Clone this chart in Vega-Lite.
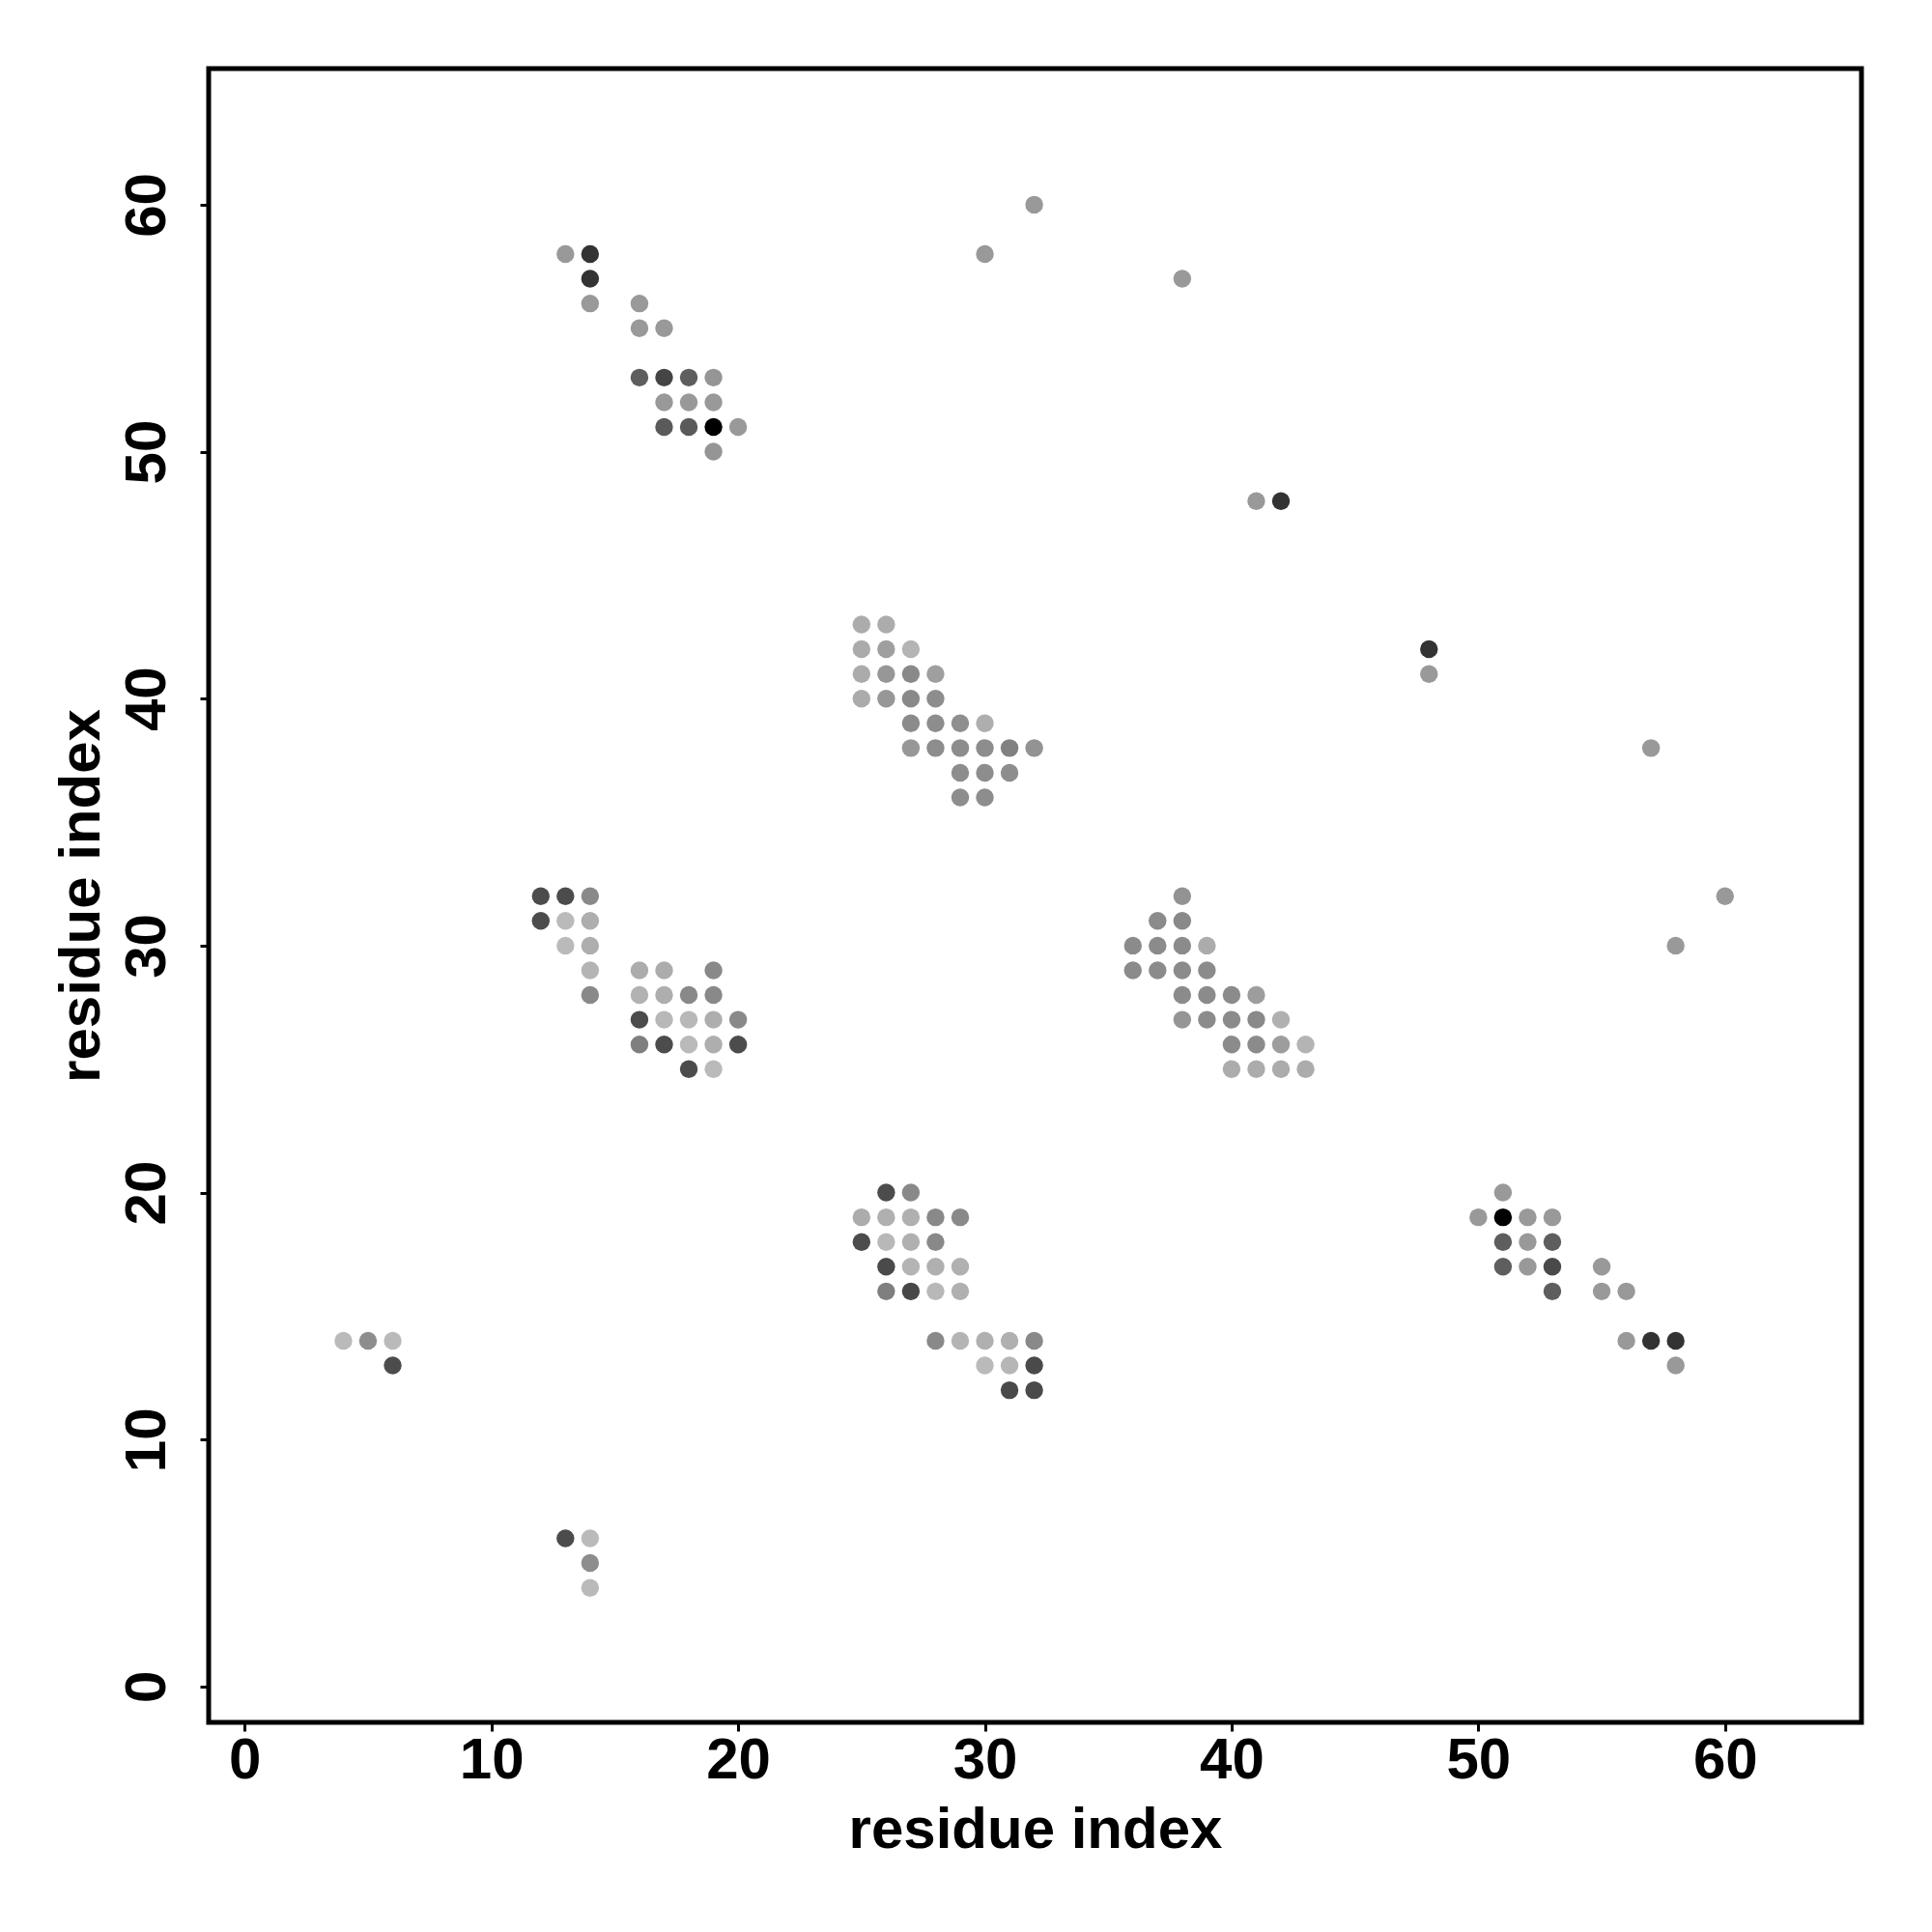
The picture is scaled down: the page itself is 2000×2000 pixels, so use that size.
{
  "$schema": "https://vega.github.io/schema/vega-lite/v6.json",
  "autosize": {"type": "none"},
  "padding": {"left": 216, "top": 71, "right": 73, "bottom": 217},
  "width": 1711,
  "height": 1712,
  "background": "white",
  "data": {"values": [
    {"x":13,"y":58,"s":0.22},{"x":14,"y":58,"s":0.74},{"x":14,"y":57,"s":0.74},{"x":14,"y":56,"s":0.22},{"x":16,"y":56,"s":0.22},{"x":16,"y":55,"s":0.22},{"x":17,"y":55,"s":0.22},
    {"x":16,"y":53,"s":0.52},{"x":17,"y":53,"s":0.65},{"x":18,"y":53,"s":0.52},{"x":19,"y":53,"s":0.24},
    {"x":17,"y":52,"s":0.22},{"x":18,"y":52,"s":0.22},{"x":19,"y":52,"s":0.22},
    {"x":17,"y":51,"s":0.54},{"x":18,"y":51,"s":0.54},{"x":19,"y":51,"s":1.0},{"x":20,"y":51,"s":0.22},
    {"x":19,"y":50,"s":0.24},

    {"x":25,"y":43,"s":0.12},{"x":26,"y":43,"s":0.12},
    {"x":25,"y":42,"s":0.13},{"x":26,"y":42,"s":0.19},{"x":27,"y":42,"s":0.08},
    {"x":25,"y":41,"s":0.13},{"x":26,"y":41,"s":0.23},{"x":27,"y":41,"s":0.30},{"x":28,"y":41,"s":0.19},
    {"x":25,"y":40,"s":0.13},{"x":26,"y":40,"s":0.23},{"x":27,"y":40,"s":0.30},{"x":28,"y":40,"s":0.28},
    {"x":27,"y":39,"s":0.29},{"x":28,"y":39,"s":0.28},{"x":29,"y":39,"s":0.27},{"x":30,"y":39,"s":0.11},
    {"x":27,"y":38,"s":0.23},{"x":28,"y":38,"s":0.28},{"x":29,"y":38,"s":0.28},{"x":30,"y":38,"s":0.28},{"x":31,"y":38,"s":0.34},{"x":32,"y":38,"s":0.25},
    {"x":29,"y":37,"s":0.28},{"x":30,"y":37,"s":0.28},{"x":31,"y":37,"s":0.28},
    {"x":29,"y":36,"s":0.28},{"x":30,"y":36,"s":0.28},

    {"x":12,"y":32,"s":0.61},{"x":13,"y":32,"s":0.61},{"x":14,"y":32,"s":0.30},
    {"x":12,"y":31,"s":0.61},{"x":13,"y":31,"s":0.05},{"x":14,"y":31,"s":0.11},
    {"x":13,"y":30,"s":0.05},{"x":14,"y":30,"s":0.11},
    {"x":14,"y":29,"s":0.08},{"x":16,"y":29,"s":0.12},{"x":17,"y":29,"s":0.12},{"x":19,"y":29,"s":0.30},
    {"x":14,"y":28,"s":0.30},{"x":16,"y":28,"s":0.09},{"x":17,"y":28,"s":0.11},{"x":18,"y":28,"s":0.30},{"x":19,"y":28,"s":0.30},
    {"x":16,"y":27,"s":0.61},{"x":17,"y":27,"s":0.06},{"x":18,"y":27,"s":0.06},{"x":19,"y":27,"s":0.11},{"x":20,"y":27,"s":0.30},
    {"x":16,"y":26,"s":0.35},{"x":17,"y":26,"s":0.61},{"x":18,"y":26,"s":0.05},{"x":19,"y":26,"s":0.11},{"x":20,"y":26,"s":0.61},
    {"x":18,"y":25,"s":0.61},{"x":19,"y":25,"s":0.05},

    {"x":38,"y":32,"s":0.25},
    {"x":37,"y":31,"s":0.29},{"x":38,"y":31,"s":0.30},
    {"x":36,"y":30,"s":0.29},{"x":37,"y":30,"s":0.29},{"x":38,"y":30,"s":0.29},{"x":39,"y":30,"s":0.12},
    {"x":36,"y":29,"s":0.29},{"x":37,"y":29,"s":0.29},{"x":38,"y":29,"s":0.29},{"x":39,"y":29,"s":0.29},
    {"x":38,"y":28,"s":0.29},{"x":39,"y":28,"s":0.29},{"x":40,"y":28,"s":0.29},{"x":41,"y":28,"s":0.20},
    {"x":38,"y":27,"s":0.24},{"x":39,"y":27,"s":0.29},{"x":40,"y":27,"s":0.29},{"x":41,"y":27,"s":0.30},{"x":42,"y":27,"s":0.10},
    {"x":40,"y":26,"s":0.29},{"x":41,"y":26,"s":0.29},{"x":42,"y":26,"s":0.20},{"x":43,"y":26,"s":0.08},
    {"x":40,"y":25,"s":0.12},{"x":41,"y":25,"s":0.12},{"x":42,"y":25,"s":0.12},{"x":43,"y":25,"s":0.12},

    {"x":26,"y":20,"s":0.61},{"x":27,"y":20,"s":0.30},
    {"x":25,"y":19,"s":0.12},{"x":26,"y":19,"s":0.10},{"x":27,"y":19,"s":0.10},{"x":28,"y":19,"s":0.30},{"x":29,"y":19,"s":0.30},
    {"x":25,"y":18,"s":0.61},{"x":26,"y":18,"s":0.06},{"x":27,"y":18,"s":0.10},{"x":28,"y":18,"s":0.30},
    {"x":26,"y":17,"s":0.62},{"x":27,"y":17,"s":0.08},{"x":28,"y":17,"s":0.10},{"x":29,"y":17,"s":0.10},
    {"x":26,"y":16,"s":0.35},{"x":27,"y":16,"s":0.64},{"x":28,"y":16,"s":0.06},{"x":29,"y":16,"s":0.10},
    {"x":28,"y":14,"s":0.30},{"x":29,"y":14,"s":0.08},{"x":30,"y":14,"s":0.10},{"x":31,"y":14,"s":0.10},{"x":32,"y":14,"s":0.30},
    {"x":30,"y":13,"s":0.05},{"x":31,"y":13,"s":0.07},{"x":32,"y":13,"s":0.62},
    {"x":31,"y":12,"s":0.62},{"x":32,"y":12,"s":0.62},

    {"x":51,"y":20,"s":0.22},
    {"x":50,"y":19,"s":0.22},{"x":51,"y":19,"s":1.0},{"x":52,"y":19,"s":0.22},{"x":53,"y":19,"s":0.22},
    {"x":51,"y":18,"s":0.52},{"x":52,"y":18,"s":0.22},{"x":53,"y":18,"s":0.52},
    {"x":51,"y":17,"s":0.52},{"x":52,"y":17,"s":0.22},{"x":53,"y":17,"s":0.62},{"x":55,"y":17,"s":0.22},
    {"x":53,"y":16,"s":0.52},{"x":55,"y":16,"s":0.22},{"x":56,"y":16,"s":0.22},
    {"x":56,"y":14,"s":0.22},{"x":57,"y":14,"s":0.74},{"x":58,"y":14,"s":0.74},
    {"x":58,"y":13,"s":0.22},

    {"x":4,"y":14,"s":0.05},{"x":5,"y":14,"s":0.28},{"x":6,"y":14,"s":0.05},{"x":6,"y":13,"s":0.61},
    {"x":13,"y":6,"s":0.61},{"x":14,"y":6,"s":0.05},{"x":14,"y":5,"s":0.28},{"x":14,"y":4,"s":0.05},

    {"x":30,"y":58,"s":0.22},{"x":32,"y":60,"s":0.22},{"x":38,"y":57,"s":0.22},{"x":41,"y":48,"s":0.22},{"x":42,"y":48,"s":0.74},
    {"x":48,"y":42,"s":0.74},{"x":48,"y":41,"s":0.22},{"x":57,"y":38,"s":0.22},{"x":60,"y":32,"s":0.22},{"x":58,"y":30,"s":0.22}
  ]},
  "mark": {"type": "point", "shape": "circle", "filled": true, "opacity": 1, "size": 340, "strokeWidth": 0},
  "encoding": {
    "x": {
      "field": "x", "type": "quantitative",
      "scale": {"domain": [-1.46, 65.53], "nice": false, "zero": false},
      "axis": {
        "values": [0, 10, 20, 30, 40, 50, 60],
        "title": "residue index",
        "labelBaseline": "alphabetic",
        "labelPadding": 48,
        "titleBaseline": "alphabetic",
        "titleY": 129
      }
    },
    "y": {
      "field": "y", "type": "quantitative",
      "scale": {"domain": [-1.45, 65.51], "nice": false, "zero": false},
      "axis": {
        "values": [0, 10, 20, 30, 40, 50, 60],
        "title": "residue index",
        "labelAngle": 270,
        "labelAlign": "center",
        "labelBaseline": "alphabetic",
        "labelPadding": 37,
        "titleAngle": 270,
        "titleAlign": "center",
        "titleBaseline": "alphabetic",
        "titleX": -114,
        "titleY": 856
      }
    },
    "color": {
      "field": "s", "type": "quantitative",
      "scale": {"domain": [0, 1], "range": ["#c4c4c4", "#000000"], "interpolate": "rgb"},
      "legend": null
    }
  },
  "config": {
    "view": {"stroke": "black", "strokeWidth": 5},
    "axis": {
      "grid": false,
      "domain": false,
      "ticks": true,
      "tickColor": "black",
      "tickWidth": 3,
      "tickSize": 9,
      "labelFont": "Liberation Sans",
      "labelFontWeight": "bold",
      "labelFontSize": 60,
      "labelColor": "black",
      "labelOverlap": false,
      "labelFlush": false,
      "titleFont": "Liberation Sans",
      "titleFontWeight": "bold",
      "titleFontSize": 60,
      "titleColor": "black"
    }
  }
}
